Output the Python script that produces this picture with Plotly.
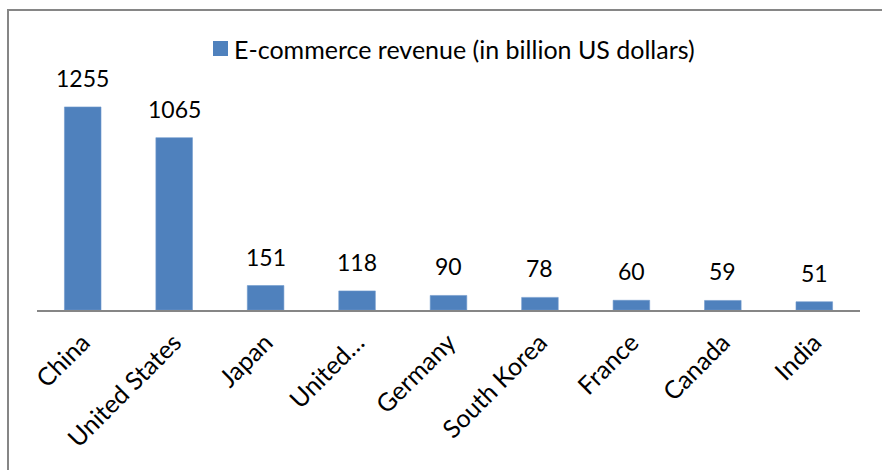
import plotly.graph_objects as go

# Data
countries = ["China", "United States", "Japan", "United…", "Germany",
             "South Korea", "France", "Canada", "India"]
revenue = [1255, 1065, 151, 118, 90, 78, 60, 59, 51]
series_name = "E-commerce revenue (in billion US dollars)"

FONT = "Lato"
BLUE = "#4F81BD"
GRAY = "#868686"

W, H = 882, 470
ML, MR, MT, MB = 37, 22, 84, 160
pw = W - ML - MR
ph = H - MT - MB


def px_x(p):
    return (p - ML) / pw


def px_y(p):
    return (H - MB - p) / ph


fig = go.Figure()
fig.add_trace(go.Bar(
    x=countries, y=revenue, name=series_name,
    marker=dict(color=BLUE, line=dict(color="#6F99CC", width=0.6)),
    showlegend=False,
))

# value labels above bars
for c, v in zip(countries, revenue):
    fig.add_annotation(x=c, y=v, text=str(v), showarrow=False,
                       yanchor="bottom", yshift=13,
                       font=dict(family=FONT, size=23, color="#000000"))

# legend key: swatch + series name
fig.add_shape(type="rect", xref="paper", yref="paper",
              x0=px_x(213), x1=px_x(228), y0=px_y(56), y1=px_y(41),
              line=dict(width=0), fillcolor=BLUE)
fig.add_annotation(xref="paper", yref="paper", x=px_x(232), y=px_y(49),
                   xanchor="left", yanchor="middle", showarrow=False,
                   text=series_name,
                   font=dict(family=FONT, size=25, color="#000000"))

# outer chart frame
fig.add_shape(type="rect", xref="paper", yref="paper",
              x0=px_x(8), x1=px_x(890), y0=px_y(10), y1=px_y(480),
              line=dict(color=GRAY, width=2), fillcolor="rgba(0,0,0,0)")

fig.update_layout(
    width=W, height=H,
    margin=dict(l=ML, r=MR, t=MT, b=MB, autoexpand=False),
    paper_bgcolor="white", plot_bgcolor="white",
    bargap=0.6,
    showlegend=False,
    font=dict(family=FONT, size=22, color="#000000"),
    xaxis=dict(showline=True, linecolor=GRAY, linewidth=2,
               showgrid=False, ticks="", tickangle=-45,
               ticklabelstandoff=6,
               tickfont=dict(family=FONT, size=25)),
    yaxis=dict(visible=False, range=[0, ph / 0.1618], showgrid=False,
               zeroline=False),
)

fig.write_html("out.html")
